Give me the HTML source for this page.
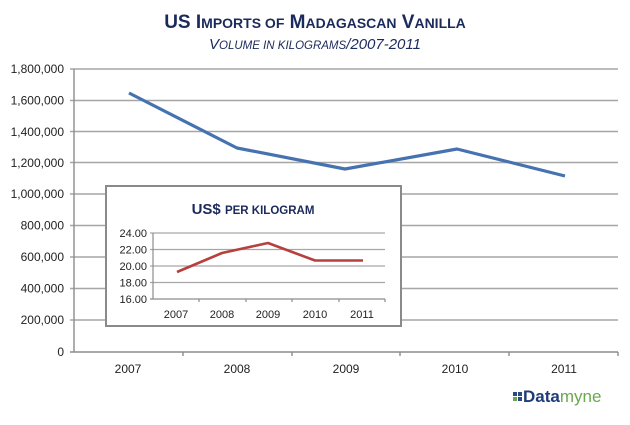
<!DOCTYPE html>
<html><head><meta charset="utf-8"><style>
html,body{margin:0;padding:0;background:#fff;}
svg{display:block;}
text{font-family:"Liberation Sans",sans-serif;}
</style></head><body>
<svg width="630" height="425" viewBox="0 0 630 425" xmlns="http://www.w3.org/2000/svg">
<text x="315" y="28" text-anchor="middle" font-size="19" font-weight="bold" fill="#1b2a5c">US I<tspan font-size="14">MPORTS OF</tspan> M<tspan font-size="14">ADAGASCAN</tspan> V<tspan font-size="14">ANILLA</tspan></text>
<text x="315" y="49" text-anchor="middle" font-size="15" font-style="italic" fill="#1b2a5c">V<tspan font-size="11.5">OLUME IN KILOGRAMS</tspan>/2007-2011</text>
<g stroke="#a6a6a6" stroke-width="1.6">
<line x1="70" y1="69" x2="618" y2="69"/><line x1="70" y1="100.5" x2="618" y2="100.5"/>
<line x1="70" y1="131.5" x2="618" y2="131.5"/><line x1="70" y1="162.5" x2="618" y2="162.5"/>
<line x1="70" y1="194" x2="618" y2="194"/><line x1="70" y1="225.5" x2="618" y2="225.5"/>
<line x1="70" y1="257" x2="618" y2="257"/><line x1="70" y1="288.5" x2="618" y2="288.5"/>
<line x1="70" y1="320" x2="618" y2="320"/>
</g>
<g stroke="#8c8c8c" stroke-width="1.4">
<line x1="74" y1="69" x2="74" y2="352"/><line x1="70" y1="352" x2="618" y2="352"/>
<line x1="183" y1="352" x2="183" y2="356"/><line x1="292" y1="352" x2="292" y2="356"/>
<line x1="400" y1="352" x2="400" y2="356"/><line x1="509" y1="352" x2="509" y2="356"/><line x1="618" y1="352" x2="618" y2="356"/>
</g>
<g font-size="12" fill="#222" text-anchor="end">
<text x="64" y="73">1,800,000</text><text x="64" y="104.5">1,600,000</text><text x="64" y="136">1,400,000</text>
<text x="64" y="167">1,200,000</text><text x="64" y="198">1,000,000</text><text x="64" y="229.5">800,000</text>
<text x="64" y="261">600,000</text><text x="64" y="292.5">400,000</text><text x="64" y="324">200,000</text><text x="64" y="356">0</text>
</g>
<g font-size="12" fill="#222" text-anchor="middle">
<text x="128" y="373">2007</text><text x="237" y="373">2008</text><text x="346" y="373">2009</text><text x="455" y="373">2010</text><text x="564" y="373">2011</text>
</g>
<polyline points="129,93 237,148 345,169 457,149 565,176" fill="none" stroke="#4672b0" stroke-width="3.2" stroke-linejoin="round"/>
<rect x="106" y="186" width="295" height="140" fill="#fff" stroke="#8a8a8a" stroke-width="2"/>
<text x="253" y="214" text-anchor="middle" font-size="15" font-weight="bold" fill="#1b2a5c">US$ <tspan font-size="11.5">PER KILOGRAM</tspan></text>
<g stroke="#a6a6a6" stroke-width="1.3">
<line x1="150" y1="233" x2="385" y2="233"/><line x1="150" y1="249.5" x2="385" y2="249.5"/>
<line x1="150" y1="266" x2="385" y2="266"/><line x1="150" y1="282.5" x2="385" y2="282.5"/>
</g>
<g stroke="#8c8c8c" stroke-width="1.2">
<line x1="153" y1="233" x2="153" y2="299"/><line x1="150" y1="299" x2="385" y2="299"/>
<line x1="199" y1="299" x2="199" y2="302"/><line x1="246" y1="299" x2="246" y2="302"/>
<line x1="292" y1="299" x2="292" y2="302"/><line x1="339" y1="299" x2="339" y2="302"/><line x1="385" y1="299" x2="385" y2="302"/>
</g>
<g font-size="11" fill="#222" text-anchor="end">
<text x="147" y="237">24.00</text><text x="147" y="253.5">22.00</text><text x="147" y="270">20.00</text>
<text x="147" y="286.5">18.00</text><text x="147" y="303">16.00</text>
</g>
<g font-size="11" fill="#222" text-anchor="middle">
<text x="176" y="318">2007</text><text x="222" y="318">2008</text><text x="268" y="318">2009</text><text x="315" y="318">2010</text><text x="362" y="318">2011</text>
</g>
<polyline points="177,272 222,253 268,243 315,260.5 363,260.5" fill="none" stroke="#b5403d" stroke-width="2.6" stroke-linejoin="round"/>
<g>
<rect x="513" y="392" width="4" height="4" fill="#2a4a86"/><rect x="518" y="392" width="4" height="4" fill="#2a4a86"/>
<rect x="513" y="397" width="4" height="4" fill="#6aa84f"/><rect x="518" y="397" width="4" height="4" fill="#2a4a86"/>
</g>
<text x="523" y="402" font-size="17" font-weight="bold" fill="#1f3c78">Data<tspan font-weight="normal" fill="#6aa84f">myne</tspan></text>
</svg>
</body></html>
